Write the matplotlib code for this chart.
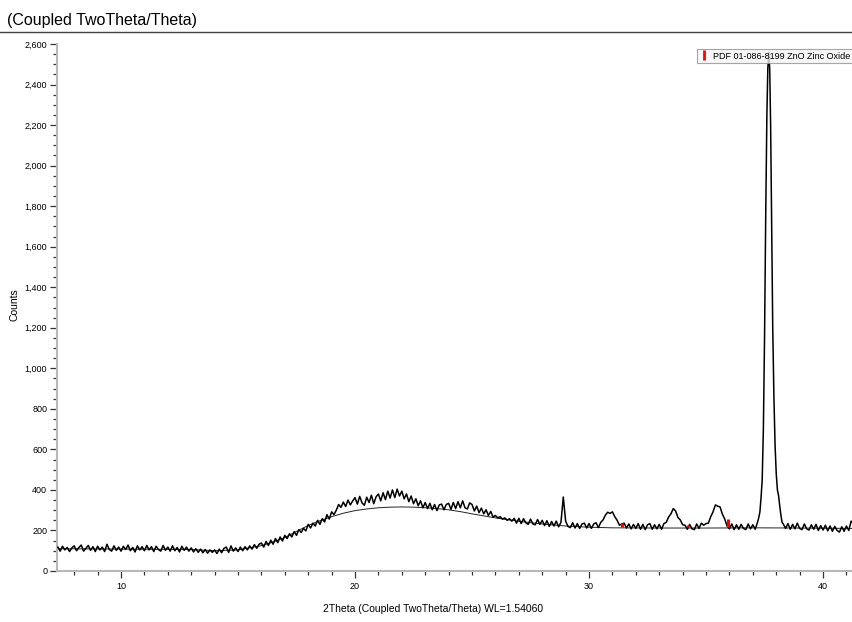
"""
XRD scan (Coupled TwoTheta/Theta) with ZnO reference sticks.
"""

import numpy as np
import matplotlib
matplotlib.use('Agg')
import matplotlib.pyplot as plt
from matplotlib.lines import Line2D
from matplotlib.ticker import MultipleLocator, FuncFormatter

plt.rcParams['font.family'] = ['Liberation Sans', 'DejaVu Sans']

# =============================================================================
# DATA
# =============================================================================

# step scan, 0.1 deg, from 7.3 to 37.1 deg
SCAN_START = 7.3
SCAN_STEP = 0.1
scan_counts = [
    118, 98, 122, 104, 116, 96, 114,                     # 7.3 - 7.9
    124, 100, 116, 128, 98, 112, 126, 102, 120, 96,      # 8
    122, 104, 118, 96, 132, 106, 98, 124, 102, 118,      # 9
    98, 122, 106, 128, 100, 116, 94, 124, 104, 120,      # 10
    100, 126, 104, 120, 96, 122, 106, 98, 126, 102,      # 11
    118, 98, 124, 100, 116, 94, 122, 102, 118, 98,       # 12
    114, 94, 110, 92, 108, 90, 106, 88, 104, 92,         # 13
    104, 86, 108, 90, 112, 118, 92, 124, 98, 114,        # 14
    96, 118, 100, 120, 104, 124, 108, 130, 112, 132,     # 15
    138, 118, 146, 126, 152, 132, 160, 140, 168, 148,    # 16
    176, 160, 184, 168, 194, 176, 204, 190, 210, 198,    # 17
    230, 212, 236, 222, 250, 230, 258, 242, 278, 256,    # 18
    292, 278, 300, 328, 314, 340, 318, 350, 326, 346,    # 19
    362, 330, 368, 336, 324, 364, 338, 374, 332, 366,    # 20
    380, 346, 386, 352, 394, 360, 400, 362, 404, 370,    # 21
    394, 356, 380, 342, 370, 332, 356, 322, 346, 312,    # 22
    338, 308, 334, 302, 328, 298, 326, 330, 302, 328,    # 23
    334, 304, 338, 308, 342, 312, 346, 312, 306, 336,    # 24
    328, 296, 320, 288, 310, 282, 302, 274, 294, 266,    # 25
    274, 262, 268, 256, 262, 250, 258, 246, 260, 236,    # 26
    260, 234, 258, 238, 230, 256, 232, 228, 254, 230,    # 27
    250, 224, 248, 220, 244, 222, 246, 218, 240, 365,    # 28
    246, 220, 214, 238, 212, 234, 210, 232, 236, 212,    # 29
    234, 210, 232, 238, 214, 240, 252, 276, 290, 284,    # 30
    292, 268, 250, 226, 232, 236, 212, 232, 208, 230,    # 31
    210, 234, 206, 230, 204, 228, 234, 206, 228, 208,    # 32
    230, 206, 234, 240, 266, 282, 308, 296, 264, 252,    # 33
    228, 226, 206, 230, 208, 204, 232, 210, 236, 226,    # 34
    234, 236, 268, 292, 326, 320, 316, 280, 256, 222,    # 35
    208, 232, 204, 228, 206, 230, 210, 204, 232, 208,    # 36
    228, 206,                                            # 37.0 - 37.1
]

# main ZnO reflection, finer sampling
peak_theta = [37.20, 37.25, 37.30, 37.35, 37.40, 37.45, 37.50, 37.55, 37.60,
              37.64, 37.68, 37.72, 37.76, 37.80, 37.85, 37.90, 37.95, 38.00,
              38.05, 38.10, 38.15, 38.20, 38.25]
peak_counts = [240, 262, 290, 360, 450, 700, 1150, 1750, 2250,
               2480, 2560, 2480, 2200, 1750, 1200, 860, 620, 480,
               400, 372, 320, 275, 240]

# tail of the scan, 0.1 deg, from 38.3 deg
TAIL_START = 38.3
tail_counts = [
    232, 210, 234, 206, 230, 208, 236,                   # 38.3 - 38.9
    210, 204, 232, 208, 202, 228, 206, 230, 200, 224,    # 39
    202, 226, 198, 222, 196, 220, 200, 192, 218, 196,    # 40
    222, 200, 246, 232,                                  # 41.0 - 41.3
]

# fitted (amorphous) background
bg_theta = [7.3, 13.0, 14.0, 15.0, 16.0, 16.5, 17.0, 17.5, 18.0, 18.5, 19.0,
            19.5, 20.0, 20.5, 21.0, 21.5, 22.0, 22.5, 23.0, 23.5, 24.0, 24.5,
            25.0, 25.5, 26.0, 27.0, 28.0, 29.0, 30.0, 31.0, 33.0, 35.0, 37.0,
            39.0, 41.3]
bg_counts = [110, 106, 100, 104, 125, 143, 165, 195, 225, 248, 268,
             285, 298, 306, 312, 315, 316, 315, 312, 308, 302, 293,
             282, 272, 262, 245, 232, 222, 216, 213, 212, 212, 213,
             212, 210]

# PDF 01-086-8199 ZnO reference sticks
ref_theta = [31.42, 34.24, 35.92]
ref_height = [22, 12, 40]
REF_BASE = 215

legend_label = "PDF 01-086-8199 ZnO Zinc Oxide"

# =============================================================================
# PLOT
# =============================================================================

scan_theta = SCAN_START + SCAN_STEP * np.arange(len(scan_counts))
tail_theta = TAIL_START + SCAN_STEP * np.arange(len(tail_counts))
theta = np.concatenate([scan_theta, peak_theta, tail_theta])
counts = np.concatenate([scan_counts, peak_counts, tail_counts])

fig = plt.figure(figsize=(8.53, 6.22), dpi=100)
ax = fig.add_axes([57 / 853, 51 / 622, 796 / 853, 527 / 622])

ax.plot(bg_theta, bg_counts, color='#222222', lw=0.7, zorder=2)
ax.plot(theta, counts, color='black', lw=1.1, zorder=3)
ax.vlines(ref_theta, REF_BASE, np.array(ref_height) + REF_BASE,
          color='red', lw=2.2, zorder=4)

ax.set_xlim(7.265, 41.28)
ax.set_ylim(0, 2600)

ax.xaxis.set_major_locator(MultipleLocator(10))
ax.xaxis.set_minor_locator(MultipleLocator(1))
ax.yaxis.set_major_locator(MultipleLocator(200))
ax.yaxis.set_minor_locator(MultipleLocator(50))
ax.yaxis.set_major_formatter(FuncFormatter(lambda v, p: f"{int(v):,}"))

for side in ('top', 'right'):
    ax.spines[side].set_visible(False)
for side in ('left', 'bottom'):
    ax.spines[side].set_color('#b8b8b8')
    ax.spines[side].set_linewidth(1.5)

ax.tick_params(axis='both', which='major', direction='out', length=5,
               width=0.9, color='#333333', labelsize=6.5, pad=2)
ax.tick_params(axis='both', which='minor', direction='out', length=3,
               width=0.9, color='#333333')
ax.tick_params(axis='x', which='major', pad=3)

handle = Line2D([], [], color='red', marker='|', linestyle='None',
                markersize=7, markeredgewidth=2)
leg = ax.legend([handle], [legend_label], loc='upper right',
                bbox_to_anchor=(1.0, 0.99), fontsize=6.5, frameon=True,
                fancybox=False, borderpad=0.25, handlelength=1.0,
                handletextpad=0.6, borderaxespad=0)
leg.get_frame().set_edgecolor('#909090')
leg.get_frame().set_facecolor('#f6f6f6')
leg.get_frame().set_linewidth(0.8)

fig.text(7 / 853, 1 - 20 / 622, "(Coupled TwoTheta/Theta)", fontsize=11.5,
         va='center', ha='left')
fig.add_artist(Line2D([0, 1], [1 - 32 / 622, 1 - 32 / 622],
                      color='#404040', lw=1.0))
fig.text(433 / 853, 1 - 609 / 622,
         "2Theta (Coupled TwoTheta/Theta) WL=1.54060", fontsize=7.5,
         va='center', ha='center')
fig.text(14 / 853, 1 - 305 / 622, "Counts", fontsize=7.5, rotation=90,
         va='center', ha='center')

fig.savefig('out.png', dpi=100)
